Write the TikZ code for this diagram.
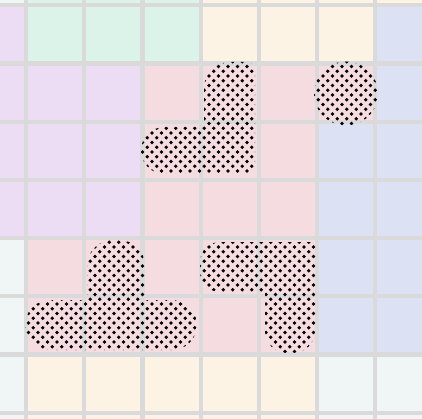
\documentclass[tikz,border=0pt]{standalone}
\definecolor{cL}{RGB}{240,246,246}
\definecolor{cG}{RGB}{220,243,234}
\definecolor{cC}{RGB}{253,243,228}
\definecolor{cB}{RGB}{220,226,244}
\definecolor{cK}{RGB}{244,220,224}
\definecolor{cP}{RGB}{236,220,244}
\definecolor{gridgray}{RGB}{218,218,218}
\tikzset{
  gridline/.style={draw=gridgray, line width=4.2pt},
  dotmark/.style={fill=black}
}
\newcommand\dotfield[4]{%
  \pgfmathtruncatemacro\ia{#1/9.5-1}\pgfmathtruncatemacro\ib{#2/9.5+1}%
  \pgfmathtruncatemacro\ja{#3/4.75-1}\pgfmathtruncatemacro\jb{#4/4.75+1}%
  \foreach \j in {\ja,...,\jb}{\foreach \i in {\ia,...,\ib}{%
    \fill[dotmark] ({9.5*\i+4.75*mod(\j,2)},{4.75*\j}) circle[radius=1.8pt];}}}
\begin{document}
\begin{tikzpicture}[x=1pt,y=-1pt]
\useasboundingbox (0,0) rectangle (422,419);
\clip (0,0) rectangle (422,419);
% cells
\foreach \r/\row in {0/{L,G,G,G,C,C,C,C},1/{P,G,G,G,C,C,C,B},2/{P,P,P,K,K,K,K,B},3/{P,P,P,K,K,K,B,B},4/{P,P,P,K,K,K,B,B},5/{L,K,K,K,K,K,B,B},6/{L,K,K,K,K,K,B,B},7/{L,C,C,C,C,C,L,L},8/{L,C,C,C,C,C,L,L}}{
  \foreach \col [count=\c from 0] in \row {
    \fill[c\col] ({26+58.2*(\c-1)},{5.3+58.2*(\r-1)}) rectangle ++(58.2,58.2);
  }
}
% grid lines
\foreach \k in {-1,...,7} \draw[gridline] ({26+58.2*\k},-5) -- ({26+58.2*\k},425);
\foreach \k in {-1,...,8} \draw[gridline] (-5,{5.3+58.2*\k}) -- (427,{5.3+58.2*\k});
% shape A
\begin{scope}
\clip (204,127) -- (204,88) arc[start angle=-180,end angle=-270,radius=26pt]
  -- (247,62) arc[start angle=-270,end angle=-360,radius=8pt]
  -- (255,168) arc[start angle=0,end angle=-90,radius=6pt]
  -- (164.5,174) arc[start angle=-90,end angle=-270,radius=23.5pt] -- cycle;
\dotfield{141}{255}{62}{174}
\end{scope}
% circle
\begin{scope}
\clip (346,93.5) circle[radius=32pt];
\dotfield{314}{378}{61}{126}
\end{scope}
% shape B
\begin{scope}
\clip (87,300) -- (87,266) arc[start angle=-180,end angle=-270,radius=26pt]
  -- (119,240) arc[start angle=-270,end angle=-360,radius=26pt]
  -- (145,300) -- (172,300) arc[start angle=-270,end angle=-450,radius=25pt]
  -- (50,350) arc[start angle=-90,end angle=-270,radius=25pt] -- cycle;
\dotfield{25}{197}{240}{350}
\end{scope}
% shape C
\begin{scope}
\clip (265,292) -- (220,292) arc[start angle=-90,end angle=-180,radius=20pt]
  -- (200,262) arc[start angle=-180,end angle=-270,radius=20pt]
  -- (315,242) -- (315,331) arc[start angle=0,end angle=-90,radius=22pt]
  -- (287,353) arc[start angle=-90,end angle=-180,radius=22pt] -- cycle;
\dotfield{200}{315}{242}{353}
\end{scope}
\end{tikzpicture}
\end{document}
